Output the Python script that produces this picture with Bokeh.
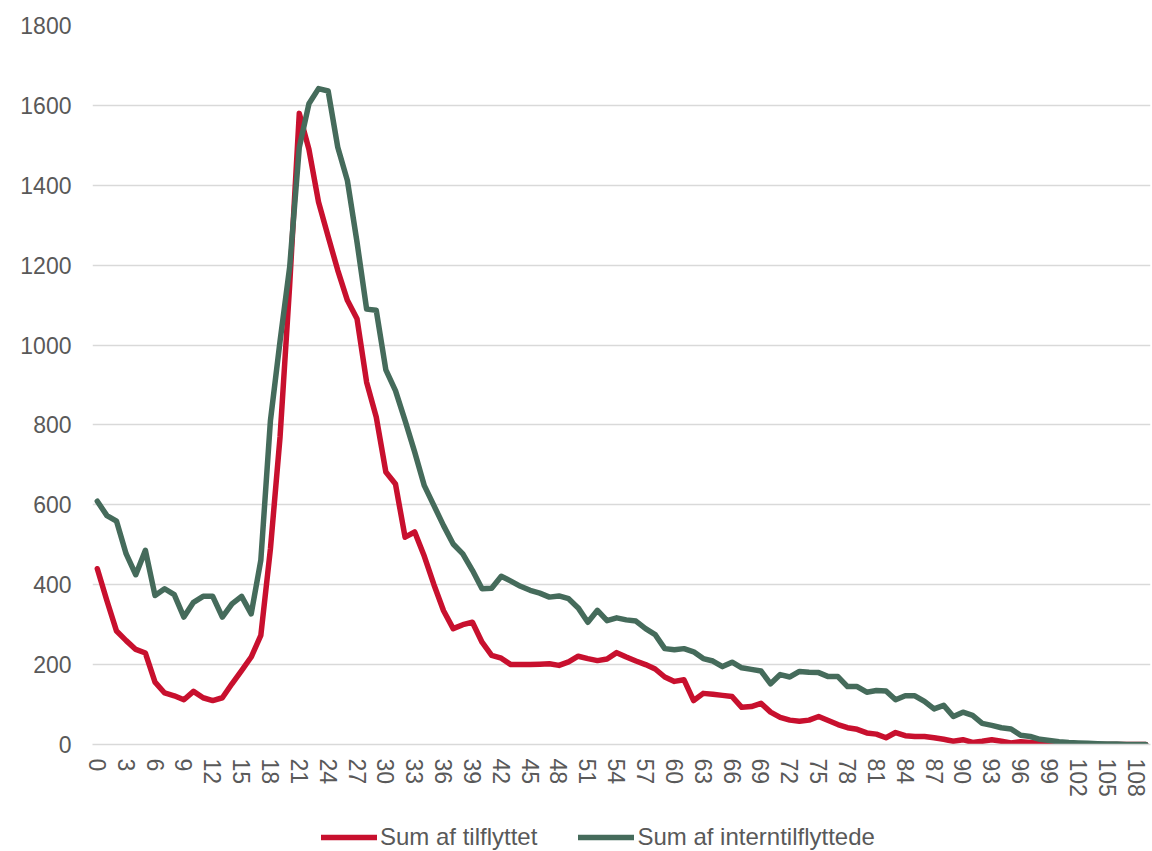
from bokeh.plotting import figure
from bokeh.models import Legend, LegendItem, FixedTicker, ColumnDataSource
from bokeh.layouts import column
from bokeh.embed import file_html
from bokeh.resources import INLINE

ages = list(range(110))
tilflyttet = [440, 360, 284, 260, 238, 229, 156, 129, 122, 112,
              133, 117, 110, 117, 152, 185, 219, 273, 490, 770,
              1150, 1580, 1490, 1358, 1272, 1187, 1112, 1066, 907, 820,
              682, 652, 519, 532, 471, 400, 335, 290, 300, 306,
              256, 223, 216, 200, 200, 200, 201, 202, 198, 207,
              221, 215, 210, 214, 230, 219, 209, 200, 189, 169,
              158, 162, 110, 128, 126, 123, 120, 93, 95, 103,
              81, 68, 61, 58, 61, 70, 60, 50, 42, 38,
              29, 26, 17, 30, 22, 20, 20, 17, 13, 8,
              12, 5, 8, 12, 8, 4, 7, 5, 3, 2,
              1, 1, 0, 0, 0, 0, 0, 0, 0, 0]
interntilflyttede = [609, 573, 559, 477, 425, 486, 373, 390, 375, 319,
                     356, 371, 371, 319, 352, 371, 327, 461, 811, 1010,
                     1195, 1495, 1604, 1642, 1636, 1495, 1412, 1258, 1090, 1087,
                     938, 886, 811, 732, 648, 598, 548, 502, 477, 436,
                     390, 391, 421, 409, 396, 386, 379, 369, 372, 365,
                     342, 306, 336, 310, 317, 312, 309, 290, 275, 240,
                     237, 240, 232, 215, 209, 195, 206, 192, 188, 184,
                     152, 175, 169, 183, 181, 180, 170, 170, 145, 145,
                     131, 135, 134, 112, 122, 122, 108, 89, 98, 70,
                     81, 73, 53, 48, 42, 39, 23, 20, 13, 10,
                     7, 5, 4, 3, 2, 1, 1, 0, 0, 0]
x_ticks = list(range(0, 110, 3))
y_ticks = list(range(0, 1801, 200))
series_names = ["Sum af tilflyttet", "Sum af interntilflyttede"]

FONT = "Liberation Sans"
GREY = "#595959"
RED = "#C8102E"
GREEN = "#456B5B"

src = ColumnDataSource(dict(age=ages, a=tilflyttet, b=interntilflyttede))

# main chart
p = figure(width=1152, height=800, output_backend="svg",
           toolbar_location=None, x_range=(-0.5, 109.5), y_range=(0, 1800),
           min_border_left=92, min_border_top=25, min_border_right=2,
           min_border_bottom=56)
p.outline_line_color = None
p.background_fill_color = "white"
p.border_fill_color = "white"

line_kw = dict(line_width=5.5, line_join="round", line_cap="round")
p.line("age", "a", source=src, line_color=RED, **line_kw)
p.line("age", "b", source=src, line_color=GREEN, **line_kw)

p.xaxis.ticker = FixedTicker(ticks=x_ticks)
p.yaxis.ticker = FixedTicker(ticks=y_ticks)
p.xgrid.grid_line_color = None
p.ygrid.grid_line_color = "#D9D9D9"
p.ygrid.grid_line_width = 1.3

for ax in (p.xaxis, p.yaxis):
    ax.major_label_text_font = FONT
    ax.major_label_text_font_size = "23px"
    ax.major_label_text_color = GREY
    ax.major_tick_line_color = None
    ax.minor_tick_line_color = None
p.yaxis.axis_line_color = None
p.xaxis.axis_line_color = "#D9D9D9"
p.xaxis.axis_line_width = 1.3
p.yaxis.major_label_standoff = 15
p.xaxis.major_label_standoff = 8
p.xaxis.major_label_orientation = "vertical"

# legend strip below the chart (its lines lie outside its view, only the legend shows)
lf = figure(width=1152, height=51, output_backend="svg", toolbar_location=None,
            x_range=(0, 1), y_range=(-10, -5),
            min_border_left=0, min_border_right=0, min_border_top=0, min_border_bottom=0)
lf.axis.visible = False
lf.grid.grid_line_color = None
lf.outline_line_color = None
lr1 = lf.line("age", "a", source=src, line_color=RED, **line_kw)
lr2 = lf.line("age", "b", source=src, line_color=GREEN, **line_kw)

legend = Legend(items=[LegendItem(label=series_names[0], renderers=[lr1]),
                       LegendItem(label=series_names[1], renderers=[lr2])],
                orientation="horizontal", location=(229, 0))
legend.label_text_font = FONT
legend.label_text_font_size = "24px"
legend.label_text_color = GREY
legend.glyph_width = 56
legend.glyph_height = 24
legend.label_standoff = 3
legend.spacing = 41
legend.padding = 0
legend.margin = 0
legend.border_line_color = None
legend.background_fill_alpha = 0
lf.add_layout(legend, "center")

layout = column(p, lf, spacing=0)
open("out.html", "w").write(file_html(layout, INLINE))
